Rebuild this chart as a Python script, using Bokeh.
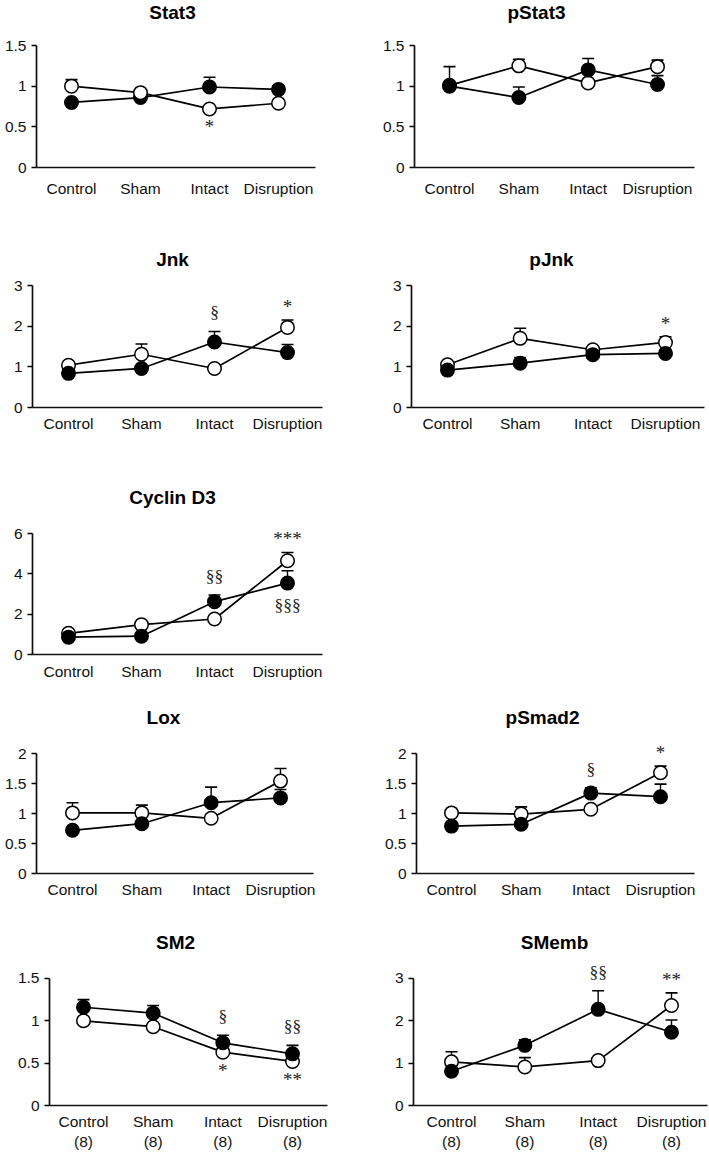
import numpy as np
from bokeh.plotting import figure
from bokeh.layouts import column, row
from bokeh.models import FixedTicker, Range1d, NumeralTickFormatter
from bokeh.core.properties import value
from bokeh.embed import file_html
from bokeh.resources import INLINE

# ---------------- data ----------------
categories = ["Control", "Sham", "Intact", "Disruption"]
n_per_group = ["(8)", "(8)", "(8)", "(8)"]

stat3_open = [1.00, 0.92, 0.72, 0.79]
stat3_open_err = [0.08, 0.03, 0.02, 0.02]
stat3_fill = [0.80, 0.86, 0.99, 0.96]
stat3_fill_err = [0.03, 0.03, 0.12, 0.04]
stat3_ticks = [0, 0.5, 1, 1.5]
stat3_marks = [("Intact", "*", "below")]

pstat3_open = [1.01, 1.25, 1.04, 1.24]
pstat3_open_err = [0.23, 0.08, 0.03, 0.08]
pstat3_fill = [1.00, 0.86, 1.20, 1.02]
pstat3_fill_err = [0.05, 0.13, 0.14, 0.11]
pstat3_ticks = [0, 0.5, 1, 1.5]
pstat3_marks = []

jnk_open = [1.04, 1.31, 0.96, 1.97]
jnk_open_err = [0.04, 0.25, 0.03, 0.18]
jnk_fill = [0.84, 0.96, 1.61, 1.35]
jnk_fill_err = [0.04, 0.05, 0.26, 0.20]
jnk_ticks = [0, 1, 2, 3]
jnk_marks = [("Intact", "§", "above"), ("Disruption", "*", "above")]

pjnk_open = [1.05, 1.70, 1.42, 1.60]
pjnk_open_err = [0.04, 0.25, 0.05, 0.14]
pjnk_fill = [0.92, 1.09, 1.30, 1.33]
pjnk_fill_err = [0.04, 0.14, 0.05, 0.05]
pjnk_ticks = [0, 1, 2, 3]
pjnk_marks = [("Disruption", "*", "above")]

cyclin_open = [1.05, 1.48, 1.76, 4.65]
cyclin_open_err = [0.10, 0.15, 0.10, 0.41]
cyclin_fill = [0.86, 0.91, 2.62, 3.54]
cyclin_fill_err = [0.10, 0.10, 0.33, 0.61]
cyclin_ticks = [0, 2, 4, 6]
cyclin_marks = [("Intact", "§§", "above"), ("Disruption", "***", "above"),
                ("Disruption", "§§§", "below")]

lox_open = [1.01, 1.01, 0.92, 1.54]
lox_open_err = [0.17, 0.13, 0.03, 0.21]
lox_fill = [0.72, 0.83, 1.18, 1.26]
lox_fill_err = [0.03, 0.04, 0.26, 0.14]
lox_ticks = [0, 0.5, 1, 1.5, 2]
lox_marks = []

psmad2_open = [1.01, 0.99, 1.07, 1.68]
psmad2_open_err = [0.03, 0.12, 0.03, 0.11]
psmad2_fill = [0.79, 0.82, 1.34, 1.28]
psmad2_fill_err = [0.03, 0.03, 0.09, 0.21]
psmad2_ticks = [0, 0.5, 1, 1.5, 2]
psmad2_marks = [("Intact", "§", "above"), ("Disruption", "*", "above")]

sm2_open = [1.00, 0.93, 0.63, 0.52]
sm2_open_err = [0.02, 0.02, 0.02, 0.02]
sm2_fill = [1.16, 1.09, 0.74, 0.61]
sm2_fill_err = [0.09, 0.09, 0.09, 0.10]
sm2_ticks = [0, 0.5, 1, 1.5]
sm2_marks = [("Intact", "§", "above"), ("Disruption", "§§", "above"),
             ("Intact", "*", "below"), ("Disruption", "**", "below")]

smemb_open = [1.03, 0.91, 1.06, 2.36]
smemb_open_err = [0.24, 0.22, 0.05, 0.30]
smemb_fill = [0.81, 1.42, 2.27, 1.73]
smemb_fill_err = [0.05, 0.13, 0.44, 0.29]
smemb_ticks = [0, 1, 2, 3]
smemb_marks = [("Intact", "§§", "above"), ("Disruption", "**", "above")]

# ---------------- layout (reference pixel geometry) ----------------
SANS = "Liberation Sans"
SERIF = "Liberation Serif"
LEFT_W, RIGHT_W = 354, 355


def make_panel(title, o, oe, f, fe, ticks, marks, lay, fig_w, fig_h, ox, oy,
               two_line=False, open_on_top=False):
    ax_px = lay["axis_x"] - ox
    y0_px = lay["y0"] - oy
    top_b, right_b = 2, 2
    frame_w = fig_w - ax_px - right_b
    frame_h = y0_px - top_b
    ppu_y = (lay["y0"] - lay["ytop"]) / ticks[-1]
    y_end = frame_h / ppu_y
    c1, c4 = lay["cats"]
    ppu_x = (c4 - c1) / 3.0
    x_start = 1 - (c1 - lay["axis_x"]) / ppu_x
    x_end = x_start + frame_w / ppu_x
    x_axis_end = x_start + (lay["axis_end"] - lay["axis_x"]) / ppu_x

    p = figure(width=fig_w, height=fig_h, output_backend="svg",
               toolbar_location=None,
               x_range=Range1d(x_start, x_end), y_range=Range1d(0, y_end),
               min_border_left=int(ax_px), min_border_right=right_b,
               min_border_top=top_b, min_border_bottom=int(fig_h - y0_px))
    p.outline_line_color = None
    p.grid.visible = False
    p.background_fill_color = "white"
    p.border_fill_color = "white"

    # y axis
    ya = p.yaxis[0]
    ya.ticker = FixedTicker(ticks=ticks)
    ya.formatter = NumeralTickFormatter(format="0.[0]")
    ya.bounds = (0, ticks[-1])
    ya.axis_line_width = 1.7
    ya.axis_line_color = "#111111"
    ya.major_tick_out = 5
    ya.major_tick_in = 0
    ya.major_tick_line_width = 1.4
    ya.minor_tick_line_color = None
    ya.major_label_standoff = 5
    ya.major_label_text_font = SANS
    ya.major_label_text_font_size = "15.5px"
    ya.major_label_text_color = "#111111"

    # x axis
    xa = p.xaxis[0]
    xa.ticker = FixedTicker(ticks=list(range(1, len(categories) + 1)))
    if two_line:
        labels = {i + 1: c + "\n" + n for i, (c, n) in enumerate(zip(categories, n_per_group))}
    else:
        labels = {i + 1: c for i, c in enumerate(categories)}
    xa.major_label_overrides = labels
    xa.bounds = (x_start, x_axis_end)
    xa.axis_line_width = 1.7
    xa.axis_line_color = "#111111"
    xa.major_tick_out = 0
    xa.major_tick_in = 0
    xa.minor_tick_line_color = None
    xa.major_label_standoff = lay["xstand"]
    xa.major_label_text_font = SANS
    xa.major_label_text_font_size = "15.5px"
    xa.major_label_text_color = "#111111"

    xs = np.arange(1, len(categories) + 1)
    o, oe, f, fe = map(np.asarray, (o, oe, f, fe))

    # connecting lines
    p.line(xs, o, line_color="black", line_width=1.7)
    p.line(xs, f, line_color="black", line_width=1.7)
    # error bars (upper only)
    for v, e in ((o, oe), (f, fe)):
        p.segment(x0=xs, y0=v, x1=xs, y1=v + e, line_color="black", line_width=1.4)
        p.scatter(xs, v + e, marker="dash", size=12, line_color="black", line_width=1.6)

    # markers
    def draw_open():
        p.scatter(xs, o, marker="circle", size=13.5, fill_color="white",
                  line_color="black", line_width=1.5)

    def draw_fill():
        p.scatter(xs, f, marker="circle", size=13.5, fill_color="black",
                  line_color="black", line_width=1.5)
    if open_on_top:
        draw_fill(); draw_open()
    else:
        draw_open(); draw_fill()

    # title
    tx = x_start + (lay["title"][0] - lay["axis_x"]) / ppu_x
    ty = (lay["y0"] - lay["title"][1]) / ppu_y
    p.text(x=[tx], y=[ty], text=[title], text_font=value(SANS),
           text_font_style="bold", text_font_size="19px",
           text_align="center", text_baseline="middle", text_color="black")

    # significance marks
    for cat, sym, pos in marks:
        i = categories.index(cat)
        star = sym.startswith("*")
        size = "19px" if star else "17.5px"
        if pos == "above":
            yv = max(o[i] + oe[i], f[i] + fe[i])
            off = -13.5 if star else -19
        else:
            yv = min(o[i], f[i])
            off = 18 if star else 22
        p.text(x=[xs[i]], y=[yv], text=[sym], text_font=value(SERIF),
               text_font_size=size, text_align="center", text_baseline="middle",
               y_offset=off, text_color="#222222")
    return p


# reference geometry of each panel
L_stat3 = dict(axis_x=36, y0=167, ytop=45, cats=(71, 278), axis_end=315, title=(172, 12), xstand=12)
L_pstat3 = dict(axis_x=414, y0=167, ytop=45, cats=(449, 657), axis_end=694, title=(536, 12), xstand=12)
L_jnk = dict(axis_x=32, y0=407, ytop=285, cats=(68, 287), axis_end=322, title=(172, 259), xstand=7)
L_pjnk = dict(axis_x=411, y0=407, ytop=285, cats=(447, 665), axis_end=704, title=(551, 259), xstand=7)
L_cyclin = dict(axis_x=32, y0=654, ytop=533, cats=(68, 287), axis_end=322, title=(172, 497), xstand=8)
L_lox = dict(axis_x=36, y0=873, ytop=753, cats=(72, 280), axis_end=313, title=(163, 717), xstand=7)
L_psmad2 = dict(axis_x=416, y0=873, ytop=753, cats=(451, 660), axis_end=694, title=(542, 717), xstand=7)
L_sm2 = dict(axis_x=49, y0=1108, ytop=979, cats=(83, 292), axis_end=327, title=(175, 943), xstand=7)
L_smemb = dict(axis_x=413, y0=1108, ytop=979, cats=(451, 671), axis_end=707, title=(554, 943), xstand=7)

# rows: (reference y of figure top, figure height)
R1 = (0, 205)
R2 = (205, 230)
R3 = (435, 253)
R4 = (688, 218)
R5 = (906, 246)

p1 = make_panel("Stat3", stat3_open, stat3_open_err, stat3_fill, stat3_fill_err, stat3_ticks,
                stat3_marks, L_stat3, LEFT_W, R1[1], 0, R1[0], open_on_top=True)
p2 = make_panel("pStat3", pstat3_open, pstat3_open_err, pstat3_fill, pstat3_fill_err, pstat3_ticks,
                pstat3_marks, L_pstat3, RIGHT_W, R1[1], 354, R1[0])
p3 = make_panel("Jnk", jnk_open, jnk_open_err, jnk_fill, jnk_fill_err, jnk_ticks,
                jnk_marks, L_jnk, LEFT_W, R2[1], 0, R2[0])
p4 = make_panel("pJnk", pjnk_open, pjnk_open_err, pjnk_fill, pjnk_fill_err, pjnk_ticks,
                pjnk_marks, L_pjnk, RIGHT_W, R2[1], 354, R2[0])
p5 = make_panel("Cyclin D3", cyclin_open, cyclin_open_err, cyclin_fill, cyclin_fill_err, cyclin_ticks,
                cyclin_marks, L_cyclin, LEFT_W, R3[1], 0, R3[0])
p6 = make_panel("Lox", lox_open, lox_open_err, lox_fill, lox_fill_err, lox_ticks,
                lox_marks, L_lox, LEFT_W, R4[1], 0, R4[0])
p7 = make_panel("pSmad2", psmad2_open, psmad2_open_err, psmad2_fill, psmad2_fill_err, psmad2_ticks,
                psmad2_marks, L_psmad2, RIGHT_W, R4[1], 354, R4[0])
p8 = make_panel("SM2", sm2_open, sm2_open_err, sm2_fill, sm2_fill_err, sm2_ticks,
                sm2_marks, L_sm2, LEFT_W, R5[1], 0, R5[0], two_line=True)
p9 = make_panel("SMemb", smemb_open, smemb_open_err, smemb_fill, smemb_fill_err, smemb_ticks,
                smemb_marks, L_smemb, RIGHT_W, R5[1], 354, R5[0], two_line=True)

layout = column(row(p1, p2), row(p3, p4), row(p5), row(p6, p7), row(p8, p9))

open("out.html", "w").write(file_html(layout, INLINE))
